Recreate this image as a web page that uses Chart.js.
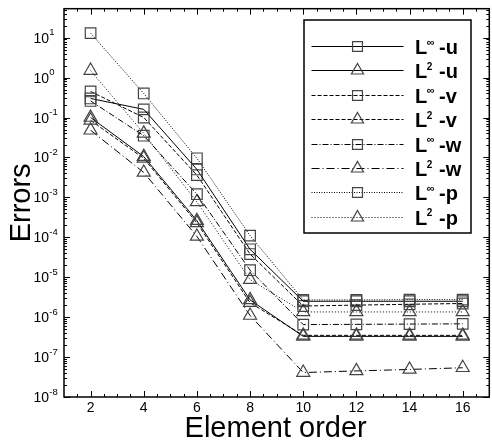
<!DOCTYPE html>
<html>
<head>
<meta charset="utf-8">
<script src="https://cdn.jsdelivr.net/npm/chart.js@4/dist/chart.umd.min.js"></script>
<style>
  html, body { margin: 0; padding: 0; background: #fff; overflow: hidden; }
  #wrap { width: 498px; height: 446px; }
</style>
</head>
<body>
<div id="wrap"><canvas id="c" width="498" height="446"></canvas></div>
<script>
// Element order (polynomial order) on the x axis
const orders = [2, 4, 6, 8, 10, 12, 14, 16];

// Error norms per field
const linfU = [0.30, 0.16, 5.0e-3, 5.0e-5, 2.5e-6, 2.5e-6, 2.5e-6, 2.5e-6];
const l2U   = [0.10, 0.0105, 2.6e-4, 2.7e-6, 3.3e-7, 3.3e-7, 3.3e-7, 3.3e-7];
const linfV = [0.45, 0.10, 3.6e-3, 3.8e-5, 1.9e-6, 2.0e-6, 2.1e-6, 2.2e-6];
const l2V   = [0.085, 0.0095, 2.3e-4, 2.3e-6, 3.5e-7, 3.5e-7, 3.5e-7, 3.5e-7];
const linfW = [0.26, 0.035, 1.2e-3, 1.5e-5, 6.5e-7, 6.6e-7, 6.7e-7, 6.8e-7];
const l2W   = [0.048, 0.0042, 1.05e-4, 1.1e-6, 4.1e-8, 4.5e-8, 4.9e-8, 5.4e-8];
const linfP = [13, 0.40, 9.5e-3, 1.1e-4, 2.7e-6, 2.7e-6, 2.75e-6, 2.75e-6];
const l2P   = [1.5, 0.04, 7.7e-4, 8.7e-6, 1.35e-6, 1.35e-6, 1.35e-6, 1.35e-6];

// Axis ticks
const xTickLabels = [2, 4, 6, 8, 10, 12, 14, 16];
const yExponents = [1, 0, -1, -2, -3, -4, -5, -6, -7, -8];

// Legend entries: superscript on L, then the field suffix
const legendSup  = ['\u221E', '2', '\u221E', '2', '\u221E', '2', '\u221E', '2'];
const legendTail = ['-u', '-u', '-v', '-v', '-w', '-w', '-p', '-p'];

const FONT = '"Liberation Sans", Arial, Helvetica, sans-serif';

function series(label, values, dash, marker) {
  return {
    label,
    data: orders.map((x, i) => ({ x, y: values[i] })),
    borderColor: '#000',
    borderWidth: 1,
    borderDash: dash,
    pointStyle: marker,
    pointRadius: 7.5,
    pointHoverRadius: 7.5,
    pointBorderColor: '#444',
    pointBorderWidth: 1.2,
    pointBackgroundColor: 'rgba(0,0,0,0)',
    tension: 0,
    fill: false
  };
}

const datasets = [
  series('L\u221E-u', linfU, [], 'rect'),
  series('L2-u', l2U, [], 'triangle'),
  series('L\u221E-v', linfV, [4, 2], 'rect'),
  series('L2-v', l2V, [4, 2], 'triangle'),
  series('L\u221E-w', linfW, [6, 2, 1, 2], 'rect'),
  series('L2-w', l2W, [8, 3, 1, 3], 'triangle'),
  series('L\u221E-p', linfP, [1, 1.5], 'rect'),
  series('L2-p', l2P, [1, 2], 'triangle')
];

// Frame with inward ticks, tick labels, axis titles and the boxed legend
const decorations = {
  id: 'decorations',
  afterDatasetsDraw(chart) {
    const { ctx, chartArea: a, scales } = chart;
    const xs = scales.x, ys = scales.y;
    ctx.save();
    ctx.strokeStyle = '#000';
    ctx.fillStyle = '#000';
    ctx.lineWidth = 1;

    // x ticks, every 0.5, long at the labelled orders
    ctx.beginPath();
    for (let v = xs.min + 0.5; v < xs.max; v += 0.5) {
      const px = Math.round(xs.getPixelForValue(v)) + 0.5;
      const len = xTickLabels.includes(v) ? 6 : 3;
      ctx.moveTo(px, a.bottom); ctx.lineTo(px, a.bottom - len);
      ctx.moveTo(px, a.top); ctx.lineTo(px, a.top + len);
    }
    // y ticks, decades long, 2..9 short
    for (let k = -8; k <= 1; k++) {
      for (let m = 1; m <= 9; m++) {
        const v = m * Math.pow(10, k);
        if (v > ys.max || v < ys.min) continue;
        const py = Math.round(ys.getPixelForValue(v)) + 0.5;
        const len = m === 1 ? 6 : 3;
        ctx.moveTo(a.left, py); ctx.lineTo(a.left + len, py);
        ctx.moveTo(a.right, py); ctx.lineTo(a.right - len, py);
      }
    }
    ctx.stroke();

    // frame
    ctx.lineWidth = 1.5;
    ctx.strokeRect(a.left, a.top, a.right - a.left, a.bottom - a.top);

    // x tick labels
    ctx.font = '14px ' + FONT;
    ctx.textAlign = 'center';
    ctx.textBaseline = 'alphabetic';
    xTickLabels.forEach(v => {
      ctx.fillText(String(v), xs.getPixelForValue(v), 412);
    });

    // y tick labels: 10 with a raised exponent
    ctx.textAlign = 'left';
    yExponents.forEach(e => {
      const py = ys.getPixelForValue(Math.pow(10, e));
      ctx.font = '14px ' + FONT;
      ctx.fillText('10', 33.5, py + 5);
      const w = ctx.measureText('10').width;
      ctx.font = '9.5px ' + FONT;
      ctx.fillText(String(e), 33.5 + w + 0.3, py - 2.5);
    });

    // axis titles
    ctx.font = '29px ' + FONT;
    ctx.textAlign = 'center';
    ctx.fillText('Element order', (a.left + a.right) / 2 - 1, 437);
    ctx.save();
    ctx.translate(30, (a.top + a.bottom) / 2);
    ctx.rotate(-Math.PI / 2);
    ctx.fillText('Errors', 0, 0);
    ctx.restore();

    // legend box
    const bx = 304, by = 20, bw = 167, bh = 213;
    ctx.fillStyle = '#fff';
    ctx.fillRect(bx, by, bw, bh);
    ctx.lineWidth = 1.5;
    ctx.strokeStyle = '#000';
    ctx.strokeRect(bx, by, bw, bh);

    chart.data.datasets.forEach((ds, i) => {
      const ry = 46 + i * 24.4;
      // line sample
      ctx.save();
      ctx.strokeStyle = ds.borderColor;
      ctx.lineWidth = ds.borderWidth;
      ctx.setLineDash(ds.borderDash);
      ctx.beginPath();
      ctx.moveTo(311.5, Math.round(ry) + 0.5);
      ctx.lineTo(403.5, Math.round(ry) + 0.5);
      ctx.stroke();
      ctx.restore();
      // marker
      ctx.save();
      ctx.strokeStyle = ds.pointBorderColor;
      ctx.lineWidth = ds.pointBorderWidth;
      ctx.fillStyle = 'rgba(0,0,0,0)';
      Chart.helpers.drawPoint(ctx, {
        pointStyle: ds.pointStyle, radius: 7, rotation: 0,
        borderWidth: ds.pointBorderWidth
      }, 357.5, Math.round(ry) + 0.5);
      ctx.restore();
      // label
      const tx = 415, base = ry + 8;
      ctx.fillStyle = '#000';
      ctx.textAlign = 'left';
      ctx.font = 'bold 20px ' + FONT;
      ctx.fillText('L', tx, base);
      const wl = ctx.measureText('L').width;
      const sup = legendSup[i];
      ctx.font = (sup === '2' ? 'bold 10px ' : 'bold 11px ') + FONT;
      ctx.fillText(sup, tx + wl - 0.5, base - 8.5);
      ctx.font = 'bold 20px ' + FONT;
      ctx.fillText(legendTail[i], tx + 24, base);
    });

    ctx.restore();
  }
};

new Chart(document.getElementById('c'), {
  type: 'line',
  data: { datasets },
  options: {
    responsive: false,
    devicePixelRatio: 1,
    animation: false,
    events: [],
    layout: { padding: { left: 64, top: 4, right: 3, bottom: 49 } },
    plugins: { legend: { display: false }, tooltip: { enabled: false } },
    scales: {
      x: { type: 'linear', min: 1, max: 17, display: false },
      y: { type: 'logarithmic', min: 1e-8, max: Math.pow(10, 1.725), display: false }
    }
  },
  plugins: [decorations]
});
</script>
</body>
</html>
